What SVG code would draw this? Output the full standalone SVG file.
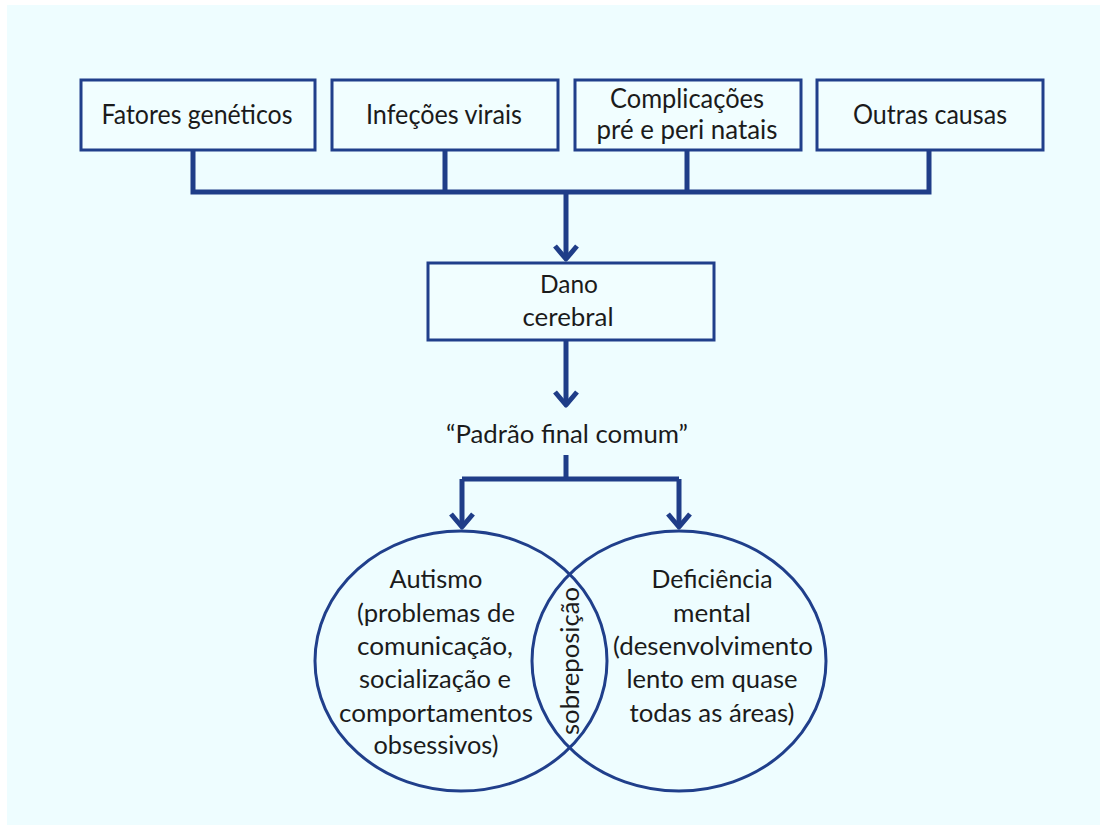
<svg xmlns="http://www.w3.org/2000/svg" width="1100" height="825" viewBox="0 0 1100 825">
  <style>
    .box { fill: #f1feff; stroke: #203f8b; stroke-width: 3; }
    .ring { fill: none; stroke: #203f8b; stroke-width: 3; }
    .wire { fill: none; stroke: #1f3d88; stroke-width: 5; stroke-linejoin: miter; }
    .lbl { font-family: Lato, "Open Sans", "Liberation Sans", sans-serif; fill: #1b1b1b; text-anchor: middle; }
    .big { font-size: 27px; }
    .mid { font-size: 25px; }
  </style>
  <defs>
    <marker id="chev" markerUnits="userSpaceOnUse" markerWidth="30" markerHeight="30" viewBox="-16 -15 20 30" refX="0" refY="0" orient="auto" overflow="visible">
      <path d="M-13,-11 L0,0 L-13,11" fill="none" stroke="#1f3d88" stroke-width="5" stroke-linejoin="round" stroke-linecap="butt"/>
    </marker>
  </defs>

  <!-- page -->
  <rect x="0" y="0" width="1100" height="825" fill="#ffffff"/>
  <rect x="7" y="5" width="1093" height="820" fill="#eefdff"/>

  <!-- causes -->
  <g id="fatores">
    <rect class="box" x="81" y="80" width="234" height="70"/>
    <text class="lbl big" x="197" y="124" textLength="191" lengthAdjust="spacingAndGlyphs">Fatores genéticos</text>
  </g>
  <g id="infecoes">
    <rect class="box" x="332" y="80" width="226" height="70"/>
    <text class="lbl big" x="444" y="124" textLength="156" lengthAdjust="spacingAndGlyphs">Infeções virais</text>
  </g>
  <g id="complicacoes">
    <rect class="box" x="575" y="80" width="226" height="70"/>
    <text class="lbl big" x="687" y="108" textLength="154" lengthAdjust="spacingAndGlyphs">Complicações</text>
    <text class="lbl big" x="687" y="139" textLength="181" lengthAdjust="spacingAndGlyphs">pré e peri natais</text>
  </g>
  <g id="outras">
    <rect class="box" x="817" y="80" width="226" height="70"/>
    <text class="lbl big" x="930" y="124" textLength="154" lengthAdjust="spacingAndGlyphs">Outras causas</text>
  </g>

  <!-- brain damage -->
  <g id="dano">
    <rect class="box" x="428" y="263" width="286" height="77"/>
    <text class="lbl mid" x="569" y="293" textLength="58" lengthAdjust="spacingAndGlyphs">Dano</text>
    <text class="lbl mid" x="568" y="326" textLength="91" lengthAdjust="spacingAndGlyphs">cerebral</text>
  </g>

  <!-- common final pattern -->
  <g id="padrao">
    <text class="lbl mid" x="567" y="443" textLength="242" lengthAdjust="spacingAndGlyphs">“Padrão final comum”</text>
  </g>

  <!-- outcomes -->
  <g id="autismo">
    <ellipse class="ring" cx="461" cy="661" rx="146" ry="130"/>
    <text class="lbl mid" x="436" y="588" textLength="93" lengthAdjust="spacingAndGlyphs">Autismo</text>
    <text class="lbl mid" x="436" y="622" textLength="158" lengthAdjust="spacingAndGlyphs">(problemas de</text>
    <text class="lbl mid" x="435" y="655" textLength="156" lengthAdjust="spacingAndGlyphs">comunicação,</text>
    <text class="lbl mid" x="435" y="688" textLength="152" lengthAdjust="spacingAndGlyphs">socialização e</text>
    <text class="lbl mid" x="436" y="722" textLength="194" lengthAdjust="spacingAndGlyphs">comportamentos</text>
    <text class="lbl mid" x="436" y="754" textLength="125" lengthAdjust="spacingAndGlyphs">obsessivos)</text>
  </g>
  <g id="deficiencia">
    <ellipse class="ring" cx="679" cy="661" rx="147" ry="130"/>
    <text class="lbl mid" x="712" y="588" textLength="121" lengthAdjust="spacingAndGlyphs">Deficiência</text>
    <text class="lbl mid" x="712" y="622" textLength="78" lengthAdjust="spacingAndGlyphs">mental</text>
    <text class="lbl mid" x="713" y="655" textLength="200" lengthAdjust="spacingAndGlyphs">(desenvolvimento</text>
    <text class="lbl mid" x="712" y="688" textLength="171" lengthAdjust="spacingAndGlyphs">lento em quase</text>
    <text class="lbl mid" x="712" y="722" textLength="165" lengthAdjust="spacingAndGlyphs">todas as áreas)</text>
  </g>
  <g id="sobreposicao">
    <text class="lbl mid" transform="translate(579,661) rotate(-90)" x="0" y="0" textLength="148" lengthAdjust="spacingAndGlyphs">sobreposição</text>
  </g>

  <!-- connectors -->
  <g id="connectors">
    <path class="wire" d="M193,150 V192 H929 V150 M445,150 V192 M687,150 V192"/>
    <path class="wire" d="M566,192 V259" marker-end="url(#chev)"/>
    <path class="wire" d="M566,340 V405" marker-end="url(#chev)"/>
    <path class="wire" d="M566,455 V479"/>
    <path class="wire" d="M462,479 H679"/>
    <path class="wire" d="M462,479 V527" marker-end="url(#chev)"/>
    <path class="wire" d="M679,479 V527" marker-end="url(#chev)"/>
  </g>
</svg>
